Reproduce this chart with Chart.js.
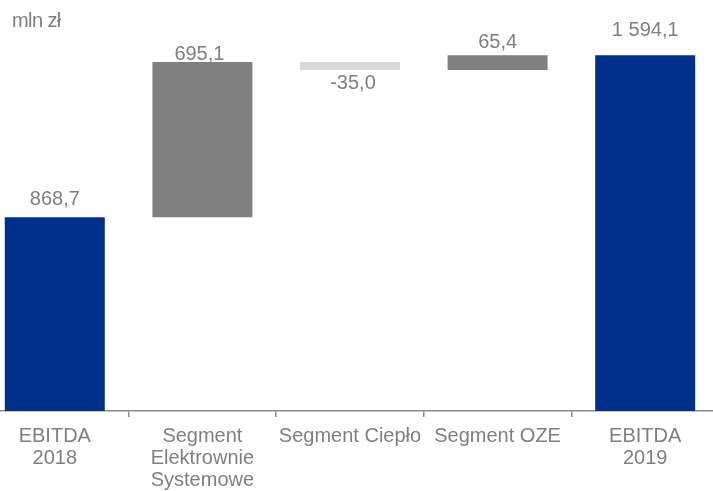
<!DOCTYPE html>
<html>
<head>
<meta charset="utf-8">
<script src="https://cdn.jsdelivr.net/npm/chart.js@4.4.1/dist/chart.umd.min.js"></script>
<style>
  html, body { margin:0; padding:0; width:713px; height:491px; overflow:hidden; background:#fff; }
  #wrap { position:absolute; left:-19px; top:0; width:738px; height:491px; }
  #unit { position:absolute; left:12px; top:9px; font-family:"Liberation Sans", Arial, sans-serif; font-size:20px; color:#7f7f7f; letter-spacing:-0.6px; }
</style>
</head>
<body>
<div id="wrap"><canvas id="c"></canvas></div>
<div id="unit">mln zł</div>
<script>
// ---- data ----
const categories = [["EBITDA","2018"], ["Segment","Elektrownie","Systemowe"], "Segment Ciepło", "Segment OZE", ["EBITDA","2019"]];
const values = [868.7, 695.1, -35.0, 65.4, 1594.1];
const kinds = ["total", "delta", "delta", "delta", "total"];
const valueLabels = ["868,7", "695,1", "-35,0", "65,4", "1 594,1"];

// ---- build floating bars ----
const bars = [];
let run = 0;
values.forEach((v, i) => {
  if (kinds[i] === "total") { bars.push([0, v]); run = v; }
  else { bars.push([run, run + v]); run += v; }
});
const colors = values.map((v, i) => kinds[i] === "total" ? "#00308a" : (v < 0 ? "#d9d9d6" : "#808080"));

// label offsets (px) above top (or below bottom for negative)
const labelGap = [12, 2, 7, 7, 19];

const labelPlugin = {
  id: "valLabels",
  afterDatasetsDraw(chart) {
    const ctx = chart.ctx;
    const meta = chart.getDatasetMeta(0);
    ctx.save();
    ctx.font = '20px "Liberation Sans", Arial, sans-serif';
    ctx.fillStyle = "#7f7f7f";
    ctx.textAlign = "center";
    meta.data.forEach((el, i) => {
      const top = Math.min(el.y, el.base), bot = Math.max(el.y, el.base);
      if (values[i] < 0) {
        ctx.textBaseline = "top";
        ctx.fillText(valueLabels[i], el.x + 3, bot + labelGap[i] - 3);
      } else {
        ctx.textBaseline = "alphabetic";
        ctx.fillText(valueLabels[i], el.x - (i === 1 ? 3 : 0), top - labelGap[i]);
      }
    });
    ctx.restore();
  }
};

new Chart(document.getElementById("c"), {
  type: "bar",
  data: {
    labels: categories,
    datasets: [{ data: bars, backgroundColor: colors, borderWidth: 0, barPercentage: 0.6775, categoryPercentage: 1 }]
  },
  options: {
    responsive: true,
    maintainAspectRatio: false,
    animation: false,
    layout: { padding: { top: 9.4, left: 0, right: 0, bottom: 0 } },
    plugins: { legend: { display: false }, tooltip: { enabled: false }, title: { display: false } },
    scales: {
      x: {
        offset: true,
        afterFit: (s) => { s.height = 80; },
        border: { display: true, color: "#8c8c8c", width: 1.5 },
        grid: { display: true, offset: true, drawOnChartArea: false, drawTicks: true, tickLength: 6, color: "#8c8c8c", lineWidth: 1.5 },
        ticks: { autoSkip: false, maxRotation: 0, minRotation: 0, padding: 9, color: "#7f7f7f",
                 font: { family: '"Liberation Sans", Arial, sans-serif', size: 20, lineHeight: 1.09 } }
      },
      y: { display: false, min: 0, max: 1800 }
    }
  },
  plugins: [labelPlugin]
});
</script>
</body>
</html>
